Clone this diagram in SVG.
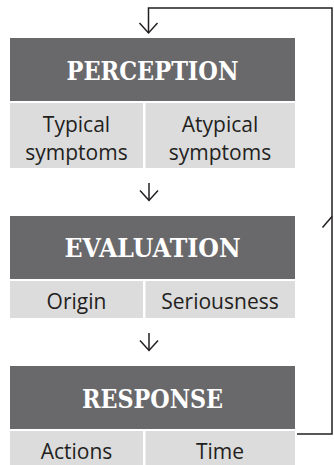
<svg xmlns="http://www.w3.org/2000/svg" width="334" height="465" viewBox="0 0 334 465">
<style>
.hd{fill:#69696c}
.cl{fill:#dcdcdd}
.ht{font-family:"DejaVu Serif",serif;font-weight:bold;font-size:26.5px;fill:#ffffff;text-anchor:middle}
.ct{font-family:"Open Sans","Noto Sans",sans-serif;font-size:21px;fill:#231f20;text-anchor:middle}
.ln{fill:none;stroke:#231f20;stroke-width:1.5}
</style>
<rect width="334" height="465" fill="#ffffff"/>
<g id="perception">
<rect class="hd" x="10" y="38" width="285" height="63"/>
<text class="ht" x="152.5" y="79.5" textLength="172" lengthAdjust="spacingAndGlyphs">PERCEPTION</text>
<rect class="cl" x="10" y="103" width="133" height="65"/>
<rect class="cl" x="145.5" y="103" width="149.5" height="65"/>
<text class="ct" x="76.5" y="132">Typical</text>
<text class="ct" x="76.5" y="159.5">symptoms</text>
<text class="ct" x="220" y="132">Atypical</text>
<text class="ct" x="220" y="159.5">symptoms</text>
</g>
<g id="evaluation">
<rect class="hd" x="10" y="216" width="285" height="63"/>
<text class="ht" x="152.5" y="257" textLength="176" lengthAdjust="spacingAndGlyphs">EVALUATION</text>
<rect class="cl" x="10" y="281" width="133" height="37"/>
<rect class="cl" x="145.5" y="281" width="149.5" height="37"/>
<text class="ct" x="76.5" y="309">Origin</text>
<text class="ct" x="220" y="309">Seriousness</text>
</g>
<g id="response">
<rect class="hd" x="10" y="366" width="285" height="63"/>
<text class="ht" x="152.5" y="407.5" textLength="141" lengthAdjust="spacingAndGlyphs">RESPONSE</text>
<rect class="cl" x="10" y="431" width="133" height="34"/>
<rect class="cl" x="145.5" y="431" width="149.5" height="34"/>
<text class="ct" x="76.5" y="459">Actions</text>
<text class="ct" x="220" y="459">Time</text>
</g>
<g id="connectors">
<path class="ln" d="M297,434 H332 V8 H148.5 V33"/>
<path class="ln" d="M139.5,23 L148.5,33 L157.5,23"/>
<path class="ln" d="M322.5,227.5 L332,216.5"/>
<path class="ln" d="M149,183 V200.5"/>
<path class="ln" d="M140,190.5 L149,200.5 L158,190.5"/>
<path class="ln" d="M149,333 V350.5"/>
<path class="ln" d="M140,340.5 L149,350.5 L158,340.5"/>
</g>
</svg>
